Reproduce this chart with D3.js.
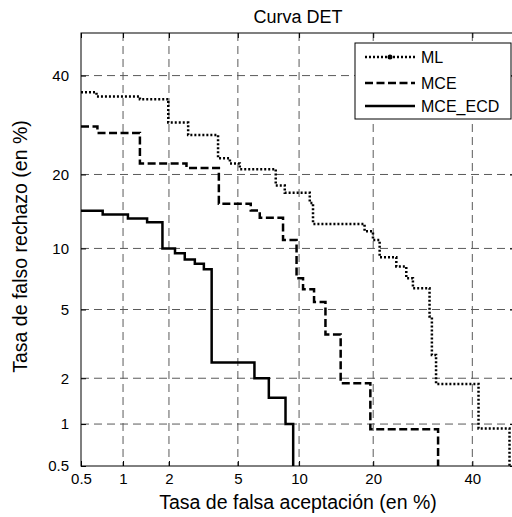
<!DOCTYPE html>
<html>
<head>
<meta charset="utf-8">
<script src="https://cdn.jsdelivr.net/npm/d3@7"></script>
<style>
  body { margin: 0; background: #fff; }
  svg { display: block; font-family: "Liberation Sans", Arial, Helvetica, sans-serif; }
</style>
</head>
<body>
<svg id="chart"></svg>
<script>
// tick labels (percent) shared by both axes
const tickValues = [0.5, 1, 2, 5, 10, 20, 40];
const seriesNames = ["ML", "MCE", "MCE_ECD"];

// false acceptance (x) and false rejection (y) in %, step points
const mlFA = [0.5, 0.65, 1.3, 1.98, 2.62, 3.9, 4.53, 5.12, 7.78, 8.59, 11.16, 11.53, 18.6, 19.96, 21.09, 24.06, 25.94, 27.23, 30.6, 31.09, 31.97, 41.43, 48.7];
const mlFR = [36.2, 35.3, 34.7, 29.7, 27.2, 22.8, 21.9, 20.9, 18.2, 17.1, 15.6, 12.8, 11.9, 10.9, 9.1, 8.24, 7.23, 6.45, 4.58, 2.77, 1.84, 0.93, 0.5];

const mceFA = [0.5, 0.66, 1.3, 2.56, 3.94, 5.84, 6.49, 8.43, 9.74, 10.42, 11.65, 13.03, 15.04, 19.53, 32.4];
const mceFR = [28.9, 27.6, 21.9, 21.1, 15.5, 14.55, 13.6, 10.9, 7.23, 6.37, 5.48, 3.64, 1.86, 0.92, 0.5];

const ecdFA = [0.5, 0.72, 1.08, 1.45, 1.82, 2.18, 2.5, 2.87, 3.24, 3.59, 6.1, 7.2, 8.66, 9.4];
const ecdFR = [14.5, 14.0, 13.5, 13.0, 10.0, 9.5, 8.9, 8.5, 8.0, 2.5, 2.0, 1.5, 1.0, 0.5];

const width = 512;
const height = 517;
const plot = { left: 81, right: 515, top: 33, bottom: 466 };

// inverse normal cdf (Acklam), used for the DET probit axes
function probit(p) {
  const a = [-39.69683028665376, 220.9460984245205, -275.9285104469687, 138.3577518672690, -30.66479806614716, 2.506628277459239];
  const b = [-54.47609879822406, 161.5858368580409, -155.6989798598866, 66.80131188771972, -13.28068155288572];
  const c = [-0.007784894002430293, -0.3223964580411365, -2.400758277161838, -2.549732539343734, 4.374664141464968, 2.938163982698783];
  const d = [0.007784695709041462, 0.3224671290700398, 2.445134137142996, 3.754408661907416];
  const pl = 0.02425;
  let q, r;
  if (p < pl) {
    q = Math.sqrt(-2 * Math.log(p));
    return (((((c[0] * q + c[1]) * q + c[2]) * q + c[3]) * q + c[4]) * q + c[5]) /
      ((((d[0] * q + d[1]) * q + d[2]) * q + d[3]) * q + 1);
  }
  if (p <= 1 - pl) {
    q = p - 0.5; r = q * q;
    return (((((a[0] * r + a[1]) * r + a[2]) * r + a[3]) * r + a[4]) * r + a[5]) * q /
      (((((b[0] * r + b[1]) * r + b[2]) * r + b[3]) * r + b[4]) * r + 1);
  }
  q = Math.sqrt(-2 * Math.log(1 - p));
  return -(((((c[0] * q + c[1]) * q + c[2]) * q + c[3]) * q + c[4]) * q + c[5]) /
    ((((d[0] * q + d[1]) * q + d[2]) * q + d[3]) * q + 1);
}

// wrap a linear scale so it takes percentages on a probit scale
function probitScale(lin) {
  const s = v => lin(probit(v / 100));
  s.domain = () => [0.5, 50];
  s.range = () => lin.range();
  s.copy = () => probitScale(lin.copy());
  return s;
}

const x = probitScale(d3.scaleLinear().domain([probit(0.005), probit(0.5)]).range([plot.left, plot.right]));
const y = probitScale(d3.scaleLinear().domain([probit(0.005), probit(0.5)]).range([plot.bottom, plot.top]));

const svg = d3.select("#chart").attr("width", width).attr("height", height);

svg.append("defs").append("clipPath").attr("id", "plotclip")
  .append("rect").attr("x", plot.left).attr("y", plot.top)
  .attr("width", plot.right - plot.left).attr("height", plot.bottom - plot.top);

// grid
const grid = svg.append("g")
  .attr("stroke", "#5a5a5a")
  .attr("stroke-width", 1)
  .attr("stroke-dasharray", "8,5");

grid.selectAll(".gx").data(tickValues.slice(1)).join("line")
  .attr("class", "gx")
  .attr("x1", d => x(d)).attr("x2", d => x(d))
  .attr("y1", plot.top).attr("y2", plot.bottom);

grid.selectAll(".gy").data(tickValues.slice(1)).join("line")
  .attr("class", "gy")
  .attr("y1", d => y(d)).attr("y2", d => y(d))
  .attr("x1", plot.left).attr("x2", plot.right);

// axes with inward ticks
function styleAxis(g) {
  g.select(".domain").remove();
  g.selectAll("text").attr("fill", "#000").style("font-size", "15px");
  g.selectAll("line").attr("stroke", "#000");
}

svg.append("g").attr("transform", `translate(0,${plot.bottom})`)
  .call(d3.axisBottom(x).tickValues(tickValues).tickFormat(d3.format("")).tickSize(-5).tickSizeOuter(0).tickPadding(7))
  .call(styleAxis);
svg.append("g").attr("transform", `translate(${plot.left},0)`)
  .call(d3.axisLeft(y).tickValues(tickValues).tickFormat(d3.format("")).tickSize(-5).tickSizeOuter(0).tickPadding(12))
  .call(styleAxis);
svg.append("g").attr("transform", `translate(0,${plot.top})`)
  .call(d3.axisTop(x).tickValues(tickValues).tickFormat("").tickSize(-5).tickSizeOuter(0))
  .call(styleAxis);
svg.append("g").attr("transform", `translate(${plot.right},0)`)
  .call(d3.axisRight(y).tickValues(tickValues).tickFormat("").tickSize(-5).tickSizeOuter(0))
  .call(styleAxis);

// curves
const series = [
  { name: seriesNames[0], fa: mlFA, fr: mlFR, dash: "2,2", w: 2.5 },
  { name: seriesNames[1], fa: mceFA, fr: mceFR, dash: "8,3.5", w: 2.5 },
  { name: seriesNames[2], fa: ecdFA, fr: ecdFR, dash: null, w: 2.5 }
];

const line = d3.line()
  .x(d => x(d[0]))
  .y(d => y(d[1]))
  .curve(d3.curveStepAfter);

svg.append("g").attr("clip-path", "url(#plotclip)")
  .selectAll("path").data(series).join("path")
  .attr("fill", "none")
  .attr("stroke", "#000")
  .attr("stroke-width", d => d.w)
  .attr("stroke-dasharray", d => d.dash)
  .attr("d", d => line(d.fa.map((v, i) => [v, d.fr[i]])));

// frame
svg.append("rect")
  .attr("x", plot.left).attr("y", plot.top)
  .attr("width", plot.right - plot.left).attr("height", plot.bottom - plot.top)
  .attr("fill", "none").attr("stroke", "#000").attr("stroke-width", 1);

// title and labels
svg.append("text")
  .attr("x", (plot.left + plot.right) / 2).attr("y", 23)
  .attr("text-anchor", "middle").style("font-size", "18px")
  .text("Curva DET");

svg.append("text")
  .attr("x", (plot.left + plot.right) / 2).attr("y", 509)
  .attr("text-anchor", "middle").style("font-size", "19.5px")
  .text("Tasa de falsa aceptación (en %)");

svg.append("text")
  .attr("transform", `translate(27,${(plot.top + plot.bottom) / 2 - 3}) rotate(-90)`)
  .attr("text-anchor", "middle").style("font-size", "19.5px")
  .text("Tasa de falso rechazo (en %)");

// legend
const legend = svg.append("g");
legend.append("rect")
  .attr("x", 355).attr("y", 43).attr("width", 156).attr("height", 76)
  .attr("fill", "#fff").attr("stroke", "#000").attr("stroke-width", 1);

const rows = legend.selectAll(".row").data(series).join("g")
  .attr("class", "row")
  .attr("transform", (d, i) => `translate(0,${[57, 83, 106][i]})`);

rows.append("line")
  .attr("x1", 365).attr("x2", 415)
  .attr("stroke", "#000")
  .attr("stroke-width", d => d.w)
  .attr("stroke-dasharray", d => d.dash);

rows.filter((d, i) => i === 0).append("circle")
  .attr("cx", 390).attr("r", 2.5).attr("fill", "#000");

rows.append("text")
  .attr("x", 421).attr("dy", "0.36em")
  .style("font-size", "16px")
  .text(d => d.name);
</script>
</body>
</html>
